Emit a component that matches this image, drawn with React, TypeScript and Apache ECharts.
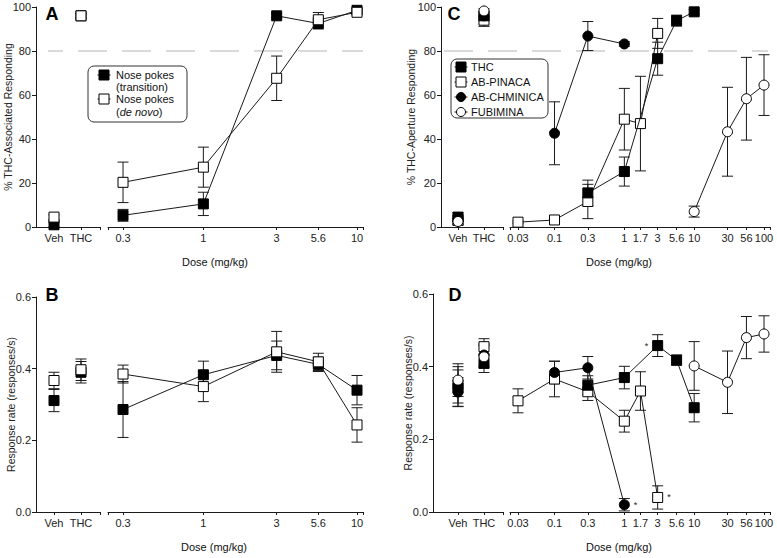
import { useEffect, useRef } from 'react';
import * as echarts from 'echarts';

// ---------- shared categories / ticks ----------
const controlCats = ['Veh', 'THC'];
const ticksAB = [0.3, 1, 3, 5.6, 10];
const tickLabelsAB = ['0.3', '1', '3', '5.6', '10'];
const ticksCD = [0.03, 0.1, 0.3, 1, 1.7, 3, 5.6, 10, 30, 56, 100];
const tickLabelsCD = ['0.03', '0.1', '0.3', '1', '1.7', '3', '5.6', '10', '30', '56', '100'];
const criterion = 80;

// ---------- Panel A (% THC-associated responding) ----------
const abDoses = [0.3, 1, 3, 5.6, 10];
const aTransCtrl = [1, 96];
const aTransCtrlErr = [1, 1];
const aTrans = [5.3, 10.5, 96, 92.5, 98.5];
const aTransErr = [2.7, 5.3, 1, 2.5, 1];
const aNovoCtrl = [4.5, 96];
const aNovoCtrlErr = [1, 1];
const aNovo = [20.3, 27.2, 67.6, 94.2, 97.6];
const aNovoErr = [9.2, 9.1, 10.1, 3.3, 1];

// ---------- Panel B (response rate) ----------
const bTransCtrl = [0.311, 0.39];
const bTransCtrlErr = [0.031, 0.03];
const bTrans = [0.286, 0.383, 0.437, 0.412, 0.34];
const bTransErr = [0.078, 0.038, 0.04, 0.02, 0.041];
const bNovoCtrl = [0.367, 0.397];
const bNovoCtrlErr = [0.023, 0.03];
const bNovo = [0.385, 0.35, 0.447, 0.419, 0.243];
const bNovoErr = [0.025, 0.042, 0.057, 0.024, 0.048];

// ---------- Panels C/D doses ----------
const thcDoses = [0.3, 1, 3, 5.6, 10];
const pinacaDoses = [0.03, 0.1, 0.3, 1, 1.7, 3];
const chminicaDoses = [0.1, 0.3, 1];
const fubiminaDoses = [10, 30, 56, 100];

// Panel C (% THC-aperture responding)
const cThcCtrl = [4.5, 96];
const cThcCtrlErr = [2, 2];
const cThc = [15.5, 25.2, 76.5, 93.8, 97.8];
const cThcErr = [5.8, 6.6, 7.5, 2.5, 1];
const cPinacaCtrl = [3, 94];
const cPinacaCtrlErr = [2, 2.8];
const cPinaca = [2.2, 3.2, 11.6, 49, 47, 88];
const cPinacaErr = [0.5, 0.5, 7.8, 14, 21.5, 6.8];
const cChminicaCtrl = [3.5, 96];
const cChminicaCtrlErr = [2, 1.5];
const cChminica = [42.6, 86.8, 83.2];
const cChminicaErr = [14.3, 6.6, 1];
const cFubiminaCtrl = [2.5, 98.2];
const cFubiminaCtrlErr = [1.5, 1];
const cFubimina = [7, 43.3, 58.3, 64.5];
const cFubiminaErr = [2.5, 20.2, 18.8, 13.8];

// Panel D (response rate)
const dThcCtrl = [0.341, 0.409];
const dThcCtrlErr = [0.05, 0.025];
const dThc = [0.349, 0.37, 0.458, 0.418, 0.287];
const dThcErr = [0.026, 0.031, 0.03, 0.014, 0.039];
const dPinacaCtrl = [0.35, 0.455];
const dPinacaCtrlErr = [0.05, 0.022];
const dPinaca = [0.306, 0.366, 0.331, 0.25, 0.333, 0.04];
const dPinacaErr = [0.033, 0.049, 0.024, 0.03, 0.053, 0.032];
const dChminicaCtrl = [0.33, 0.432];
const dChminicaCtrlErr = [0.04, 0.03];
const dChminica = [0.384, 0.397, 0.02];
const dChminicaErr = [0.031, 0.031, 0.017];
const dFubiminaCtrl = [0.363, 0.427];
const dFubiminaCtrlErr = [0.045, 0.03];
const dFubimina = [0.402, 0.357, 0.48, 0.49];
const dFubiminaErr = [0.067, 0.086, 0.058, 0.05];
// doses marked with * (significant rate decrease)
const dThcSig = [3];
const dPinacaSig = [3];
const dChminicaSig = [1];

const FONT = "'Liberation Sans', Arial, sans-serif";
const INK = '#1a1a1a';

type Group = {
  symbol: 'rect' | 'circle';
  filled: boolean;
  ctrl: number[];
  ctrlErr: number[];
  doses: number[];
  vals: number[];
  errs: number[];
  sig?: number[];
  sigSide?: string;
};

type Panel = {
  gridL: { left: number; width: number };
  gridR: { left: number; width: number };
  top: number;
  height: number;
  ctrlMin: number;
  ctrlMax: number;
  logMin: number;
  logMax: number;
  yMax: number;
  yInterval: number;
  decimals: number;
  yName: string;
  nameGap: number;
  ticks: number[];
  tickLabels: string[];
  groups: Group[];
  crit?: { left: number; width: number; offset: number };
};

const panels: Panel[] = [
  {
    gridL: { left: 36, width: 64 },
    gridR: { left: 108, width: 255 },
    top: 7, height: 220,
    ctrlMin: 0.333, ctrlMax: 2.704, logMin: 0.2395, logMax: 10.94,
    yMax: 100, yInterval: 20, decimals: 0,
    yName: '% THC-Associated Responding', nameGap: 23,
    ticks: ticksAB, tickLabels: tickLabelsAB,
    crit: { left: 48, width: 315, offset: 14 },
    groups: [
      { symbol: 'rect', filled: true, ctrl: aTransCtrl, ctrlErr: aTransCtrlErr, doses: abDoses, vals: aTrans, errs: aTransErr },
      { symbol: 'rect', filled: false, ctrl: aNovoCtrl, ctrlErr: aNovoCtrlErr, doses: abDoses, vals: aNovo, errs: aNovoErr },
    ],
  },
  {
    gridL: { left: 36, width: 64 },
    gridR: { left: 108, width: 255 },
    top: 297, height: 215,
    ctrlMin: 0.333, ctrlMax: 2.704, logMin: 0.2395, logMax: 10.94,
    yMax: 0.6, yInterval: 0.2, decimals: 1,
    yName: 'Response rate (responses/s)', nameGap: 20,
    ticks: ticksAB, tickLabels: tickLabelsAB,
    groups: [
      { symbol: 'rect', filled: true, ctrl: bTransCtrl, ctrlErr: bTransCtrlErr, doses: abDoses, vals: bTrans, errs: bTransErr },
      { symbol: 'rect', filled: false, ctrl: bNovoCtrl, ctrlErr: bNovoCtrlErr, doses: abDoses, vals: bNovo, errs: bNovoErr },
    ],
  },
  {
    gridL: { left: 441, width: 62 },
    gridR: { left: 510, width: 260 },
    top: 7, height: 220,
    ctrlMin: 0.346, ctrlMax: 2.731, logMin: 0.02304, logMax: 121.8,
    yMax: 100, yInterval: 20, decimals: 0,
    yName: '% THC-Aperture Responding', nameGap: 25,
    ticks: ticksCD, tickLabels: tickLabelsCD,
    crit: { left: 444, width: 324, offset: 0 },
    groups: [
      { symbol: 'rect', filled: false, ctrl: cPinacaCtrl, ctrlErr: cPinacaCtrlErr, doses: pinacaDoses, vals: cPinaca, errs: cPinacaErr },
      { symbol: 'rect', filled: true, ctrl: cThcCtrl, ctrlErr: cThcCtrlErr, doses: thcDoses, vals: cThc, errs: cThcErr },
      { symbol: 'circle', filled: true, ctrl: cChminicaCtrl, ctrlErr: cChminicaCtrlErr, doses: chminicaDoses, vals: cChminica, errs: cChminicaErr },
      { symbol: 'circle', filled: false, ctrl: cFubiminaCtrl, ctrlErr: cFubiminaCtrlErr, doses: fubiminaDoses, vals: cFubimina, errs: cFubiminaErr },
    ],
  },
  {
    gridL: { left: 433, width: 70 },
    gridR: { left: 510, width: 260 },
    top: 294, height: 218,
    ctrlMin: 0.038, ctrlMax: 2.731, logMin: 0.02304, logMax: 121.8,
    yMax: 0.6, yInterval: 0.2, decimals: 1,
    yName: 'Response rate (responses/s)', nameGap: 20,
    ticks: ticksCD, tickLabels: tickLabelsCD,
    groups: [
      { symbol: 'rect', filled: false, ctrl: dPinacaCtrl, ctrlErr: dPinacaCtrlErr, doses: pinacaDoses, vals: dPinaca, errs: dPinacaErr, sig: dPinacaSig, sigSide: 'right' },
      { symbol: 'rect', filled: true, ctrl: dThcCtrl, ctrlErr: dThcCtrlErr, doses: thcDoses, vals: dThc, errs: dThcErr, sig: dThcSig, sigSide: 'left' },
      { symbol: 'circle', filled: true, ctrl: dChminicaCtrl, ctrlErr: dChminicaCtrlErr, doses: chminicaDoses, vals: dChminica, errs: dChminicaErr, sig: dChminicaSig, sigSide: 'right' },
      { symbol: 'circle', filled: false, ctrl: dFubiminaCtrl, ctrlErr: dFubiminaCtrlErr, doses: fubiminaDoses, vals: dFubimina, errs: dFubiminaErr },
    ],
  },
];

function errSeries(xi: number, yi: number, data: number[][], z: number) {
  return {
    type: 'custom',
    xAxisIndex: xi,
    yAxisIndex: yi,
    z,
    silent: true,
    clip: false,
    encode: { x: 0, y: 1 },
    data,
    renderItem: (_params: any, api: any) => {
      const x = api.value(0);
      const m = api.value(1);
      const e = api.value(2);
      const t = api.coord([x, m + e]);
      const b = api.coord([x, Math.max(0, m - e)]);
      const hw = 5.5;
      const st = { stroke: INK, lineWidth: 1 };
      return {
        type: 'group',
        children: [
          { type: 'line', shape: { x1: t[0], y1: t[1], x2: b[0], y2: b[1] }, style: st },
          { type: 'line', shape: { x1: t[0] - hw, y1: t[1], x2: t[0] + hw, y2: t[1] }, style: st },
          { type: 'line', shape: { x1: b[0] - hw, y1: b[1], x2: b[0] + hw, y2: b[1] }, style: st },
        ],
      };
    },
  };
}

function markerStyle(g: Group) {
  return g.filled
    ? { color: '#000', borderColor: '#000', borderWidth: 1, opacity: 1 }
    : { color: '#fff', borderColor: '#000', borderWidth: 1, opacity: 1 };
}

function buildOption() {
  const grid: any[] = [];
  const xAxis: any[] = [];
  const yAxis: any[] = [];
  const series: any[] = [];
  const labelStyle = { fontSize: 11, color: '#222', fontFamily: FONT };

  panels.forEach((p) => {
    const gL = grid.length;
    grid.push({ left: p.gridL.left, width: p.gridL.width, top: p.top, height: p.height, outerBoundsMode: 'none' });
    const gR = grid.length;
    grid.push({ left: p.gridR.left, width: p.gridR.width, top: p.top, height: p.height, outerBoundsMode: 'none' });

    const xCtrl = xAxis.length;
    xAxis.push({
      type: 'value', gridIndex: gL, min: p.ctrlMin, max: p.ctrlMax, position: 'bottom',
      axisLine: { show: true, lineStyle: { color: INK, width: 1 } },
      axisTick: { show: true, customValues: [1, 2, p.ctrlMax], length: 3, lineStyle: { color: INK } },
      axisLabel: { ...labelStyle, margin: 5, customValues: [1, 2], formatter: (v: number) => controlCats[Math.round(v) - 1] ?? '' },
      splitLine: { show: false },
    });
    const xLog = xAxis.length;
    xAxis.push({ type: 'log', logBase: 10, gridIndex: gR, min: p.logMin, max: p.logMax, position: 'bottom', show: false, splitLine: { show: false } });
    const lmin = Math.log10(p.logMin);
    const lmax = Math.log10(p.logMax);
    const tickPos = p.ticks.map((t) => Math.log10(t));
    xAxis.push({
      type: 'value', gridIndex: gR, min: lmin, max: lmax, position: 'bottom',
      axisLine: { show: true, lineStyle: { color: INK, width: 1 } },
      axisTick: { show: true, customValues: [lmin, ...tickPos, lmax], length: 3, lineStyle: { color: INK } },
      axisLabel: {
        ...labelStyle, margin: 5, customValues: tickPos,
        formatter: (v: number) => {
          const i = tickPos.findIndex((t) => Math.abs(t - v) < 1e-6);
          return i >= 0 ? p.tickLabels[i] : '';
        },
      },
      splitLine: { show: false },
    });

    const yL = yAxis.length;
    yAxis.push({
      type: 'value', gridIndex: gL, min: 0, max: p.yMax, interval: p.yInterval,
      axisLine: { show: true, lineStyle: { color: INK, width: 1 } },
      axisTick: { show: true, length: 4, lineStyle: { color: INK } },
      axisLabel: { ...labelStyle, margin: 5, formatter: (v: number) => v.toFixed(p.decimals) },
      splitLine: { show: false },
      name: p.yName, nameLocation: 'middle', nameGap: p.nameGap, nameMoveOverlap: false,
      nameTextStyle: { fontSize: 10.5, color: '#222', fontFamily: FONT },
    });
    const yR = yAxis.length;
    yAxis.push({ type: 'value', gridIndex: gR, min: 0, max: p.yMax, interval: p.yInterval, show: false, splitLine: { show: false } });

    if (p.crit) {
      const gO = grid.length;
      grid.push({ left: p.crit.left, width: p.crit.width, top: p.top, height: p.height, outerBoundsMode: 'none' });
      const xO = xAxis.length;
      xAxis.push({ type: 'value', gridIndex: gO, min: 0, max: 1, show: false });
      const yO = yAxis.length;
      yAxis.push({ type: 'value', gridIndex: gO, min: 0, max: p.yMax, show: false });
      series.push({
        type: 'line', xAxisIndex: xO, yAxisIndex: yO, silent: true, symbol: 'none', z: 1,
        data: [[0, criterion], [1, criterion]],
        lineStyle: { color: '#b4b4b4', width: 1, type: [29, 15], dashOffset: p.crit.offset },
      });
    }

    p.groups.forEach((g) => {
      series.push(errSeries(xCtrl, yL, g.ctrl.map((v, i) => [i + 1, v, g.ctrlErr[i]]), 2));
      series.push(errSeries(xLog, yR, g.doses.map((d, i) => [d, g.vals[i], g.errs[i]]), 2));
    });
    p.groups.forEach((g, gi) => {
      const size = 10;
      series.push({
        type: 'scatter', xAxisIndex: xCtrl, yAxisIndex: yL, silent: true, z: 3 + gi,
        symbol: g.symbol, symbolSize: size, itemStyle: markerStyle(g),
        data: g.ctrl.map((v, i) => [i + 1, v]),
      });
      series.push({
        type: 'line', xAxisIndex: xLog, yAxisIndex: yR, silent: true, z: 3 + gi,
        symbol: g.symbol, symbolSize: size, showSymbol: true, itemStyle: markerStyle(g),
        lineStyle: { color: INK, width: 1 },
        data: g.doses.map((d, i) => {
          const isSig = g.sig && g.sig.includes(d);
          return isSig
            ? { value: [d, g.vals[i]], label: { show: true, formatter: '*', position: g.sigSide, distance: 4, fontSize: 9, color: INK, fontFamily: FONT } }
            : { value: [d, g.vals[i]] };
        }),
      });
    });
  });

  const txt = (x: number, y: number, text: string, extra: any = {}) => ({
    type: 'text', x, y, silent: true,
    style: { text, fill: '#111', fontFamily: FONT, fontSize: 11, textAlign: 'center', textVerticalAlign: 'middle', align: 'center', verticalAlign: 'middle', ...extra },
  });
  const legSym = (cx: number, cy: number, symbol: string, filled: boolean) => {
    const st = { fill: filled ? '#000' : '#fff', stroke: '#000', lineWidth: 1 };
    return [
      { type: 'line', silent: true, shape: { x1: cx - 6.5, y1: cy, x2: cx + 6.5, y2: cy }, style: { stroke: INK, lineWidth: 1 } },
      symbol === 'rect'
        ? { type: 'rect', silent: true, shape: { x: cx - 5, y: cy - 5, width: 10, height: 10 }, style: st }
        : { type: 'circle', silent: true, shape: { cx, cy, r: 4.5 }, style: st },
    ];
  };
  const left = { textAlign: 'left', align: 'left' };

  const graphic: any[] = [
    txt(52, 14, 'A', { fontSize: 18, fontWeight: 'bold', fill: '#000' }),
    txt(52, 295, 'B', { fontSize: 18, fontWeight: 'bold', fill: '#000' }),
    txt(454, 14, 'C', { fontSize: 18, fontWeight: 'bold', fill: '#000' }),
    txt(455, 295, 'D', { fontSize: 18, fontWeight: 'bold', fill: '#000' }),
    txt(215, 262, 'Dose (mg/kg)'),
    txt(214, 547, 'Dose (mg/kg)'),
    txt(619, 262, 'Dose (mg/kg)'),
    txt(619, 547, 'Dose (mg/kg)'),
    // legend A
    { type: 'rect', silent: true, shape: { x: 88, y: 66, width: 99, height: 56, r: 6 }, style: { fill: '#fff', stroke: '#333', lineWidth: 1 } },
    ...legSym(104, 75, 'rect', true),
    txt(116, 75, 'Nose pokes', left),
    txt(116, 87, '(transition)', left),
    ...legSym(104, 99, 'rect', false),
    txt(116, 99, 'Nose pokes', left),
    txt(116, 112, '(' + '{i|de novo}' + ')', { ...left, rich: { i: { fontStyle: 'italic', fontSize: 11, fontFamily: FONT, fill: '#111' } } }),
    // legend C
    { type: 'rect', silent: true, shape: { x: 451, y: 59, width: 97, height: 59, r: 6 }, style: { fill: '#fff', stroke: '#333', lineWidth: 1 } },
    ...legSym(461, 67, 'rect', true),
    txt(471, 67, 'THC', left),
    ...legSym(461, 82, 'rect', false),
    txt(471, 82, 'AB-PINACA', left),
    ...legSym(461, 97, 'circle', true),
    txt(471, 97, 'AB-CHMINICA', left),
    ...legSym(461, 112, 'circle', false),
    txt(471, 112, 'FUBIMINA', left),
  ];

  return {
    animation: false,
    backgroundColor: '#fff',
    textStyle: { fontFamily: FONT },
    grid,
    xAxis,
    yAxis,
    series,
    graphic,
  };
}

export default function App() {
  const ref = useRef<HTMLDivElement>(null);
  useEffect(() => {
    document.body.style.margin = '0';
    if (!ref.current) return;
    const chart = echarts.init(ref.current, undefined, { renderer: 'svg' });
    chart.setOption(buildOption() as any);
    return () => chart.dispose();
  }, []);
  return <div ref={ref} style={{ width: 777, height: 558 }} />;
}
